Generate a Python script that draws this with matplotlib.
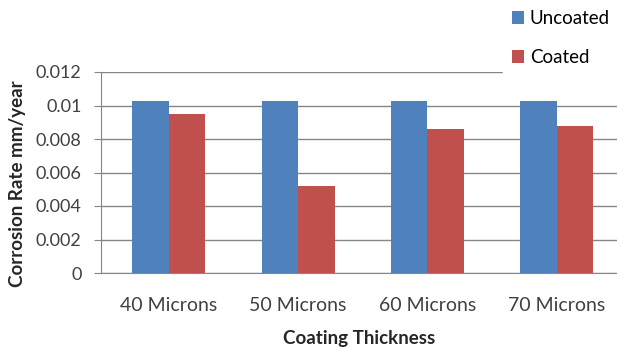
import numpy as np
import matplotlib.pyplot as plt

categories = ['40 Microns', '50 Microns', '60 Microns', '70 Microns']
uncoated = [0.01025, 0.01025, 0.01025, 0.01025]
coated = [0.0095, 0.0052, 0.0086, 0.0088]
yticks = [0, 0.002, 0.004, 0.006, 0.008, 0.01, 0.012]
ytick_labels = ['0', '0.002', '0.004', '0.006', '0.008', '0.01', '0.012']

plt.rcParams['font.family'] = ['Lato', 'DejaVu Sans']

fig = plt.figure(figsize=(6.17, 3.48), dpi=100)
ax = fig.add_axes([101 / 617, 75 / 348, 516 / 617, 201 / 348])

x = np.arange(len(categories))
w = 0.283
b1 = ax.bar(x - w / 2, uncoated, w, color='#4F81BD', label='Uncoated', zorder=3)
b2 = ax.bar(x + w / 2, coated, w, color='#C0504D', label='Coated', zorder=3)

# group centres at ~168 px, spacing ~129 px
ax.set_xlim(-0.525, 3.466)
ax.set_ylim(0, 0.012)
ax.set_yticks(yticks)
ax.set_yticklabels(ytick_labels, fontsize=13, color='#404040')
ax.set_xticks(x)
ax.set_xticklabels(categories, fontsize=14, color='#404040')
ax.tick_params(axis='x', length=0, pad=17)
ax.tick_params(axis='y', length=5, color='#868686', pad=9)
ax.yaxis.grid(True, color='#868686', linewidth=1, zorder=0)
for s in ['top', 'right']:
    ax.spines[s].set_visible(False)
for s in ['left', 'bottom']:
    ax.spines[s].set_color('#868686')

ax.set_xlabel('Coating Thickness', fontsize=13.5, fontweight='bold', color='#262626', labelpad=12)
ax.set_ylabel('Corrosion Rate mm/year', fontsize=13.5, fontweight='bold', color='#262626')
ax.yaxis.set_label_coords(-0.145, 0.443)

leg = fig.legend(handles=[b1, b2], loc='upper left', bbox_to_anchor=(0.815, 0.998),
                 borderaxespad=0, frameon=True, fontsize=13.5, handlelength=0.64,
                 handleheight=0.64, handletextpad=0.3, labelspacing=1.17, borderpad=0.5)
leg.get_frame().set_facecolor('white')
leg.get_frame().set_edgecolor('white')
leg.get_frame().set_alpha(1)
leg.set_zorder(10)

fig.savefig('out.png', dpi=100)
